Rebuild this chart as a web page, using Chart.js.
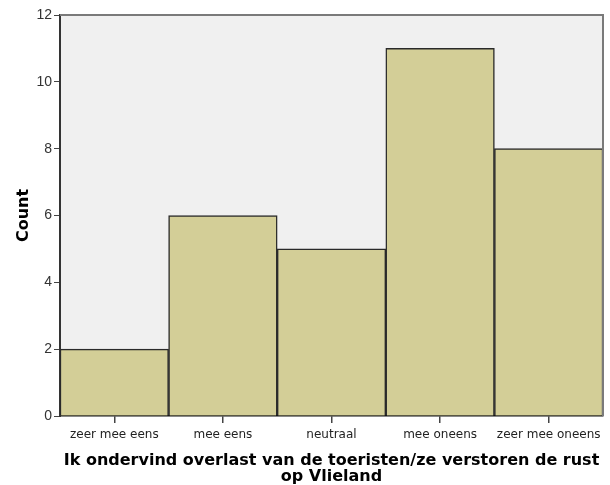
<!DOCTYPE html>
<html>
<head>
<meta charset="utf-8">
<script src="https://cdn.jsdelivr.net/npm/chart.js@4"></script>
<style>
html,body{margin:0;padding:0;background:#fff;}
#wrap{width:610px;height:485px;}
</style>
</head>
<body>
<div id="wrap"><canvas id="c" width="610" height="485"></canvas></div>
<script>
const categories = ['zeer mee eens', 'mee eens', 'neutraal', 'mee oneens', 'zeer mee oneens'];
const counts = [2, 6, 5, 11, 8];
const yTickValues = [0, 2, 4, 6, 8, 10, 12];
const xTitle = ['Ik ondervind overlast van de toeristen/ze verstoren de rust', 'op Vlieland'];
const yTitle = 'Count';

const frame = {
  id: 'frame',
  beforeDraw(chart) {
    const {ctx, chartArea: a} = chart;
    ctx.save();
    ctx.fillStyle = '#f0f0f0';
    ctx.fillRect(a.left, a.top, a.right - a.left, a.bottom - a.top);
    ctx.restore();
  },
  afterDraw(chart) {
    const {ctx, chartArea: a} = chart;
    ctx.save();
    ctx.strokeStyle = '#7a7a7a';
    ctx.lineWidth = 2;
    ctx.beginPath();
    ctx.moveTo(a.left, a.top);
    ctx.lineTo(a.right, a.top);
    ctx.lineTo(a.right, a.bottom);
    ctx.stroke();
    ctx.restore();
  }
};

new Chart(document.getElementById('c'), {
  type: 'bar',
  data: {
    labels: categories,
    datasets: [{
      data: counts,
      backgroundColor: '#d3ce97',
      borderColor: '#2a2a2a',
      borderWidth: 1.5,
      categoryPercentage: 1,
      barPercentage: 1
    }]
  },
  options: {
    responsive: false,
    animation: false,
    devicePixelRatio: 1,
    layout: {padding: {top: 15, right: 7, left: 0, bottom: 0}},
    plugins: {legend: {display: false}, tooltip: {enabled: false}},
    scales: {
      x: {
        offset: true,
        grid: {offset: false, drawOnChartArea: false, drawTicks: true, tickLength: 7, color: '#444', lineWidth: 1.5},
        border: {display: true, color: '#111', width: 1.5},
        ticks: {color: '#222', font: {family: 'DejaVu Sans', size: 12}, padding: 5, maxRotation: 0},
        title: {display: true, text: xTitle, color: '#000', font: {family: 'DejaVu Sans', size: 16, weight: 'bold', lineHeight: 1.0}, padding: {top: 2, bottom: 0}},
        afterFit(s) { s.height = 69; }
      },
      y: {
        min: 0, max: 12,
        afterBuildTicks(s) { s.ticks = yTickValues.map(v => ({value: v})); },
        grid: {drawOnChartArea: false, drawTicks: true, tickLength: 6, color: '#444', lineWidth: 1},
        border: {display: true, color: '#333', width: 2},
        ticks: {color: '#333', font: {family: 'Liberation Sans', size: 14}, padding: 2},
        title: {display: true, text: yTitle, color: '#000', font: {family: 'DejaVu Sans', size: 16, weight: 'bold'}, padding: {top: 14, bottom: 4}},
        afterFit(s) { s.width = 60; }
      }
    }
  },
  plugins: [frame]
});
</script>
</body>
</html>
